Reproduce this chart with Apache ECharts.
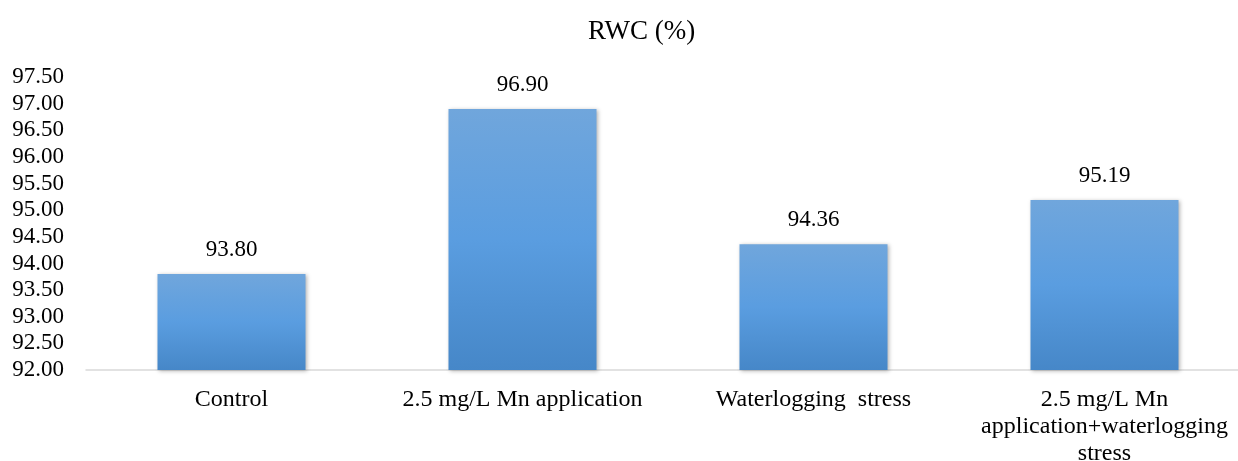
<!DOCTYPE html>
<html>
<head>
<meta charset="utf-8">
<script src="https://cdn.jsdelivr.net/npm/echarts@6/dist/echarts.min.js"></script>
<style>html,body{margin:0;padding:0;background:#fff}#c{width:1238px;height:461px}</style>
</head>
<body>
<div id="c"></div>
<script>
const categories = ["Control", "2.5 mg/L Mn application", "Waterlogging  stress", "2.5 mg/L Mn\napplication+waterlogging\nstress"];
const values = [93.80, 96.90, 94.36, 95.19];
const titleText = "RWC (%)";
const yMin = 92, yMax = 97.5, yStep = 0.5;

const chart = echarts.init(document.getElementById('c'));
const font = "Liberation Serif";
chart.setOption({
  animation: false,
  title: {text: titleText, left: 583, top: 13, textStyle: {fontFamily: font, fontSize: 27, fontWeight: 'normal', color: '#000'}},
  grid: {left: 86, right: -12, top: 77, bottom: 91, outerBoundsMode: 'none', containLabel: false},
  xAxis: {
    type: 'category', data: categories,
    axisLine: {lineStyle: {color: '#d9d9d9', width: 1.5}},
    axisTick: {show: false},
    axisLabel: {fontFamily: font, fontSize: 24, color: '#000', margin: 16, lineHeight: 27, interval: 0}
  },
  yAxis: {
    type: 'value', min: yMin, max: yMax, interval: yStep,
    splitLine: {show: false}, axisLine: {show: false}, axisTick: {show: false},
    axisLabel: {fontFamily: font, fontSize: 23, color: '#000', margin: 22, formatter: v => v.toFixed(2)}
  },
  series: [{
    type: 'bar', data: values, barWidth: 148,
    itemStyle: {
      color: {type: 'linear', x: 0, y: 0, x2: 0, y2: 1, colorStops: [
        {offset: 0, color: '#70a6dc'}, {offset: 0.5, color: '#5a9de0'}, {offset: 1, color: '#4687c8'}]},
      shadowColor: 'rgba(0,0,0,0.3)', shadowBlur: 4, shadowOffsetX: 1, shadowOffsetY: 1
    },
    label: {show: true, position: 'top', distance: 13, fontFamily: font, fontSize: 23, color: '#000', formatter: p => p.value.toFixed(2)}
  }]
});
</script>
</body>
</html>
